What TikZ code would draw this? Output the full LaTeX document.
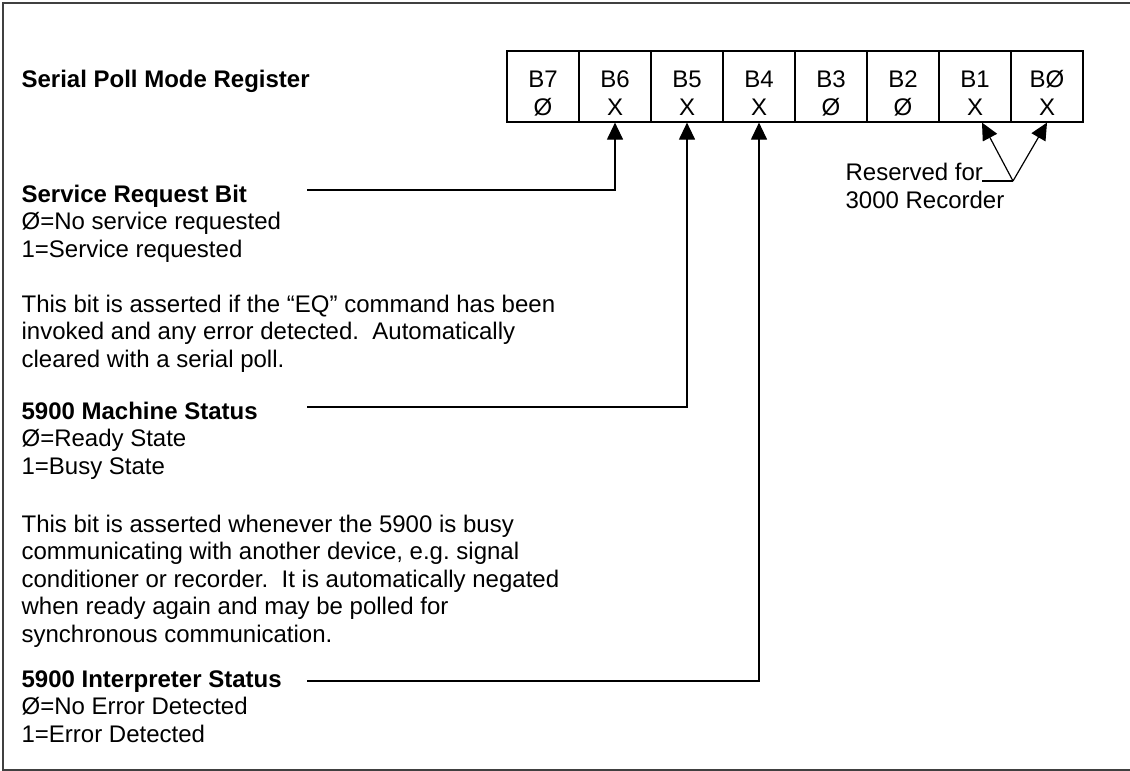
\documentclass[tikz,border=0pt]{standalone}
\usepackage{fontspec}
\setmainfont{Liberation Sans}
\usetikzlibrary{arrows.meta}

\begin{document}
\frenchspacing
\begin{tikzpicture}[
  x=1pt, y=-1pt,
  >={Triangle[length=17pt,width=16pt]},
  every node/.style={font=\fontsize{24}{27.4}\selectfont},
  cell/.style={draw,minimum width=72pt,inner sep=0pt,align=center,
    text height=64pt,text depth=7pt,anchor=base},
  txt/.style={anchor=base west,align=left,inner sep=0pt},
  every path/.style={line width=1.2pt}
]
\useasboundingbox (0,0) rectangle (1130,771);
\draw[black!75,line width=1.5pt] (3,3) rectangle (1140,770);

\node[txt] (title) at (21,87) {\textbf{Serial Poll Mode Register}};

% register cells, placed at the baseline of their lower line
\node[cell] (b7) at (543,115) {B7\\Ø};
\node[cell] (b6) at (615,115) {B6\\X};
\node[cell] (b5) at (687,115) {B5\\X};
\node[cell] (b4) at (759,115) {B4\\X};
\node[cell] (b3) at (831,115) {B3\\Ø};
\node[cell] (b2) at (903,115) {B2\\Ø};
\node[cell] (b1) at (975,115) {B1\\X};
\node[cell] (b0) at (1047,115) {BØ\\X};

% text blocks, placed at the baseline of their last line
\node[txt] (srb) at (21,257) {\textbf{Service Request Bit}\\Ø=No service requested\\1=Service requested};
\node[txt] (srbnote) at (21,367) {This bit is asserted if the “EQ” command has been\\invoked and any error detected.\ \ Automatically\\cleared with a serial poll.};
\node[txt] (mach) at (21,474) {\textbf{5900 Machine Status}\\Ø=Ready State\\1=Busy State};
\node[txt] (machnote) at (21,642) {This bit is asserted whenever the 5900 is busy\\communicating with another device, e.g. signal\\conditioner or recorder.\ \ It is automatically negated\\when ready again and may be polled for\\synchronous communication.};
\node[txt] (interp) at (21,742) {\textbf{5900 Interpreter Status}\\Ø=No Error Detected\\1=Error Detected};

\coordinate (s6) at (307,190);
\coordinate (s5) at (307,407);
\coordinate (s4) at (307,681);
\draw[->] (s6) -| (b6);
\draw[->] (s5) -| (b5);
\draw[->] (s4) -| (b4);

\node[txt] (res) at (845,208) {Reserved for\\3000 Recorder};
\coordinate (resend) at (982,181);
\coordinate (fork) at (1013,181);
\draw (resend) -- (fork);
\draw[->] (fork) -- ([xshift=7pt]b1.south);
\draw[->] (fork) -- (b0.south);
\end{tikzpicture}
\end{document}
